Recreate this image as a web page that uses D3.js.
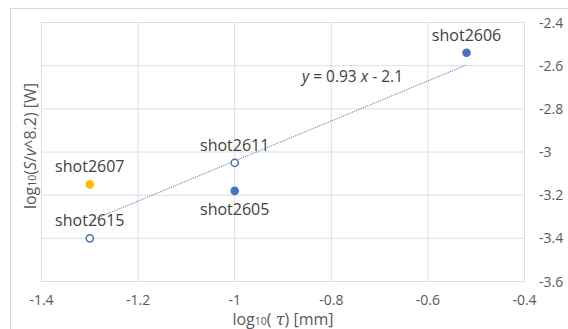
<!DOCTYPE html>
<html>
<head>
<meta charset="utf-8">
<script src="https://cdn.jsdelivr.net/npm/d3@7"></script>
<style>
  body { margin: 0; background: #fff; }
  svg { display: block; font-family: "Open Sans", sans-serif; }
</style>
</head>
<body>
<svg id="chart" width="568" height="329"></svg>
<script>
// data
var shots   = ["shot2606", "shot2611", "shot2605", "shot2607", "shot2615"];
var logTau  = [-0.52, -1.0, -1.0, -1.3, -1.3];
var logS    = [-2.54, -3.05, -3.18, -3.15, -3.40];
var kinds   = ["filled", "hollow", "filled", "yellow", "hollow"];
var labelAt = ["above", "above", "below", "above", "above"];
var xTicks  = [-1.4, -1.2, -1.0, -0.8, -0.6, -0.4];
var yTicks  = [-2.4, -2.6, -2.8, -3.0, -3.2, -3.4, -3.6];

var blue = "#4472c4", yellow = "#ffc000", ink = "#404040", tickInk = "#595959", grid = "#dedede";

var svg = d3.select("#chart");

// chart area frame
svg.append("rect")
  .attr("x", 10.5).attr("y", 8.5)
  .attr("width", 600).attr("height", 400)
  .attr("fill", "none").attr("stroke", "#d9d9d9");

var x = d3.scaleLinear().domain([-1.4, -0.4]).range([41.5, 524.5]);
var y = d3.scaleLinear().domain([-3.6, -2.4]).range([281.5, 22.5]);

// grid lines
svg.append("g").selectAll("line").data(xTicks).enter().append("line")
  .attr("x1", function(d) { return x(d); }).attr("x2", function(d) { return x(d); })
  .attr("y1", y(-2.4)).attr("y2", y(-3.6))
  .attr("stroke", grid);
svg.append("g").selectAll("line").data(yTicks).enter().append("line")
  .attr("x1", x(-1.4)).attr("x2", x(-0.4))
  .attr("y1", function(d) { return y(d); }).attr("y2", function(d) { return y(d); })
  .attr("stroke", grid);

// tick labels (plain hyphen minus as in the original)
svg.append("g").selectAll("text").data(xTicks).enter().append("text")
  .attr("x", function(d) { return x(d); })
  .attr("y", 305)
  .attr("text-anchor", "middle")
  .attr("font-size", 14).attr("fill", tickInk)
  .text(function(d) { return String(d); });
svg.append("g").selectAll("text").data(yTicks).enter().append("text")
  .attr("x", 539)
  .attr("y", function(d) { return y(d) + 5; })
  .attr("font-size", 14).attr("fill", tickInk)
  .text(function(d) { return String(d); });

// axis titles
var xt = svg.append("text")
  .attr("x", 283).attr("y", 325)
  .attr("text-anchor", "middle")
  .attr("font-size", 16).attr("fill", tickInk);
xt.append("tspan").text("log");
xt.append("tspan").attr("font-size", 10.5).text("10");
xt.append("tspan").text("( ");
xt.append("tspan").attr("font-style", "italic").attr("font-family", "DejaVu Serif").text("\u03c4");
xt.append("tspan").text(") [mm]");

var yt = svg.append("text")
  .attr("transform", "translate(36,146) rotate(-90)")
  .attr("text-anchor", "middle")
  .attr("font-size", 16).attr("fill", tickInk);
yt.append("tspan").text("log");
yt.append("tspan").attr("font-size", 10.5).text("10");
yt.append("tspan").text("(");
yt.append("tspan").attr("font-style", "italic").text("S");
yt.append("tspan").text("/");
yt.append("tspan").attr("font-style", "italic").text("v");
yt.append("tspan").text("^8.2) [W]");

// linear trend line (least squares through the points)
var mx = d3.mean(logTau), my = d3.mean(logS);
var sxy = d3.sum(logTau, function(v, i) { return (v - mx) * (logS[i] - my); });
var sxx = d3.sum(logTau, function(v) { return (v - mx) * (v - mx); });
var slope = sxy / sxx, icpt = my - slope * mx;
var ext = d3.extent(logTau);
svg.append("line")
  .attr("x1", x(ext[0])).attr("y1", y(slope * ext[0] + icpt))
  .attr("x2", x(ext[1])).attr("y2", y(slope * ext[1] + icpt))
  .attr("stroke", blue).attr("stroke-width", 1)
  .attr("stroke-dasharray", "1,1");

var eq = svg.append("text")
  .attr("x", 302).attr("y", 82)
  .attr("font-size", 15.5).attr("fill", ink);
eq.append("tspan").attr("font-style", "italic").text("y");
eq.append("tspan").text(" = 0.93 ");
eq.append("tspan").attr("font-style", "italic").text("x");
eq.append("tspan").text(" - 2.1");

// points
var pts = shots.map(function(s, i) {
  return { name: s, x: logTau[i], y: logS[i], kind: kinds[i], at: labelAt[i] };
});
svg.append("g").selectAll("circle").data(pts).enter().append("circle")
  .attr("cx", function(d) { return x(d.x); })
  .attr("cy", function(d) { return y(d.y); })
  .attr("r", function(d) { return d.kind == "hollow" ? 3.6 : 4.3; })
  .attr("fill", function(d) {
    if (d.kind == "yellow") return yellow;
    if (d.kind == "hollow") return "#fff";
    return blue;
  })
  .attr("stroke", function(d) { return d.kind == "hollow" ? blue : "none"; })
  .attr("stroke-width", 1.5);

// data labels
svg.append("g").selectAll("text").data(pts).enter().append("text")
  .attr("x", function(d) { return x(d.x); })
  .attr("y", function(d) { return y(d.y) + (d.at == "above" ? -12 : 24); })
  .attr("text-anchor", "middle")
  .attr("font-size", 16).attr("fill", ink)
  .text(function(d) { return d.name; });
</script>
</body>
</html>
